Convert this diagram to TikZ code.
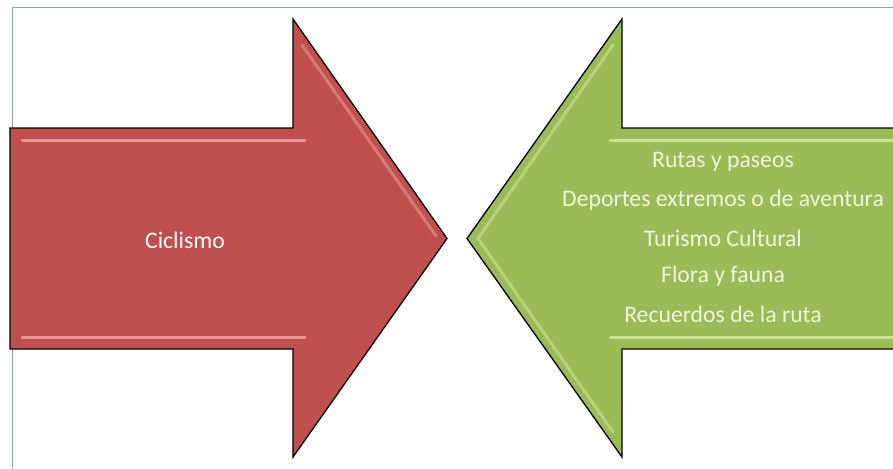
\documentclass[tikz,border=0pt]{standalone}
\usepackage{fontspec}
\setmainfont{Carlito}
\definecolor{redfill}{HTML}{C0504D}
\definecolor{redhi}{HTML}{F4ABA8}
\definecolor{greenfill}{HTML}{9BBB59}
\definecolor{greenhi}{HTML}{DDEFA8}
\definecolor{greentext}{HTML}{EEF5D8}
\definecolor{frameblue}{HTML}{8EA2BC}
\tikzset{
  arrowshape/.style={draw=black, line width=1.3pt, line join=miter},
  hiline/.style={line width=3pt, line cap=round, opacity=0.75},
  lbl/.style={font=\fontsize{23.7}{23.7}\selectfont, inner sep=0pt, anchor=center}
}
\begin{document}
\begin{tikzpicture}[x=1pt, y=-1pt]
\useasboundingbox (0,0) rectangle (893,468);
\fill[white] (0,0) rectangle (893,468);
% frame
\draw[frameblue, line width=0.8pt] (12,468) -- (12,7) -- (893,7);
% red arrow
\fill[redfill] (10,128) -- (293,128) -- (293,19) -- (447,238.5) -- (293,457) -- (293,349) -- (10,349) -- cycle;
\draw[redhi, hiline] (22,140) -- (305,140);
\draw[redhi, hiline] (22,337) -- (305,337);
\draw[redhi, hiline, opacity=0.45] (302,45) -- (436,236);
\draw[arrowshape] (10,128) -- (293,128) -- (293,19) -- (447,238.5) -- (293,457) -- (293,349) -- (10,349) -- cycle;
% green arrow
\fill[greenfill] (893,128) -- (622,128) -- (622,19) -- (467,238.5) -- (622,457) -- (622,349) -- (893,349) -- cycle;
\draw[greenhi, hiline] (610,140) -- (893,140);
\draw[greenhi, hiline] (610,337) -- (893,337);
\draw[greenhi, hiline, opacity=0.45] (613,45) -- (478,238.5) -- (613,432);
\draw[arrowshape] (893,128) -- (622,128) -- (622,19) -- (467,238.5) -- (622,457) -- (622,349) -- (893,349);
% texts
\node[lbl, text=white] (cic) at (185,240) {Ciclismo};
\node[lbl, text=greentext] (t1) at (723,162) {Rutas y paseos};
\node[lbl, text=greentext] (t2) at (723,200) {Deportes extremos o de aventura};
\node[lbl, text=greentext] (t3) at (723,238) {Turismo Cultural};
\node[lbl, text=greentext] (t4) at (723,276) {Flora y fauna};
\node[lbl, text=greentext] (t5) at (723,314) {Recuerdos de la ruta};
\end{tikzpicture}
\end{document}
